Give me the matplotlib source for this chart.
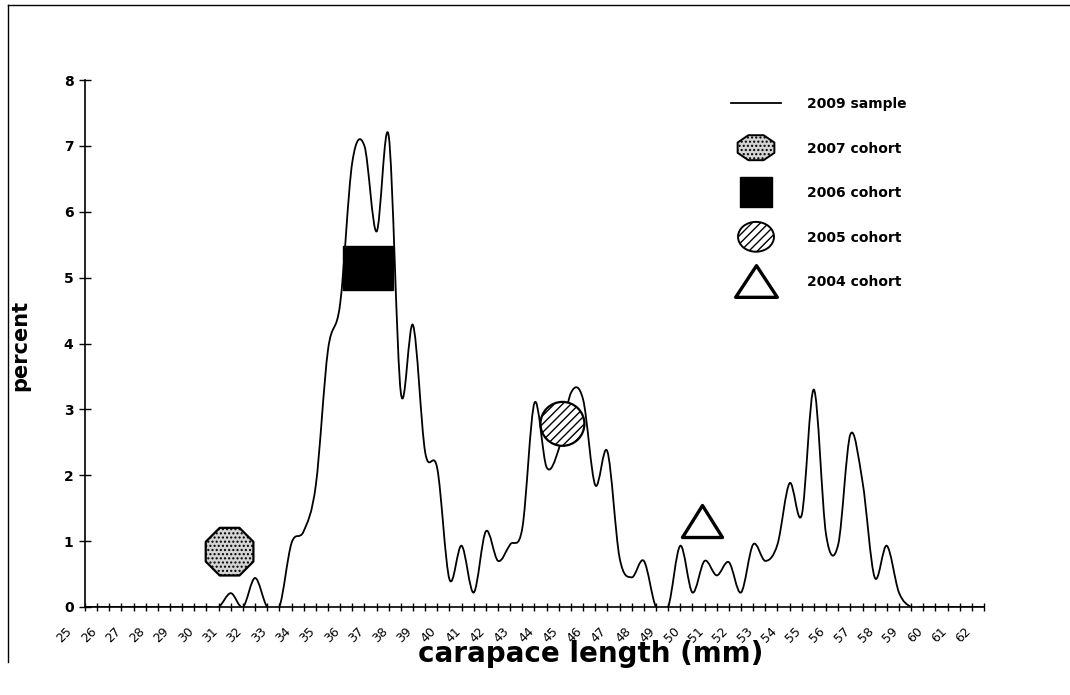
import numpy as np
import matplotlib.pyplot as plt
import matplotlib.transforms as mtransforms
from matplotlib.path import Path
from matplotlib.patches import PathPatch
from matplotlib.lines import Line2D
from matplotlib.markers import MarkerStyle

plt.rcParams['font.family'] = ['DejaVu Sans']

# Datos (clases de 0.5 mm, 25 a 62 mm)
length_mm = np.arange(25, 62.5, 0.5)
percent_2009 = [
    0, 0, 0, 0, 0, 0, 0, 0, 0, 0, 0,          # 25 - 30
    0, 0.21, 0, 0.44, 0, 0,                   # 30.5 - 33
    0.97, 1.15, 1.85, 3.9, 4.6, 6.75, 7.0,    # 33.5 - 36.5
    5.7, 7.15, 3.25, 4.28, 2.35, 2.1, 0.42,   # 37 - 40
    0.93, 0.22, 1.15, 0.7, 0.95, 1.2, 3.1,    # 40.5 - 43.5
    2.12, 2.4, 3.25, 3.15, 1.85, 2.36, 0.75,  # 44 - 47
    0.45, 0.7, 0, 0, 0.93, 0.22, 0.7,         # 47.5 - 50.5
    0.48, 0.68, 0.22, 0.95, 0.7, 0.95, 1.88,  # 51 - 54
    1.4, 3.3, 1.1, 0.95, 2.62, 1.9, 0.45,     # 54.5 - 57.5
    0.93, 0.22, 0, 0, 0, 0, 0, 0, 0,          # 58 - 62
]
tick_labels = [str(v) for v in range(25, 63)]

cohort_names = ["2007 cohort", "2006 cohort", "2005 cohort", "2004 cohort"]
cohort_x = [30.95, 36.65, 44.65, 50.4]
cohort_y = [0.84, 5.14, 2.78, 1.3]


def smooth_path(x, y):
    # linea suavizada tipo Excel (Bezier por Catmull-Rom)
    pts = np.column_stack([x, y]).astype(float)
    n = len(pts)
    verts = [pts[0]]
    codes = [Path.MOVETO]
    for i in range(n - 1):
        p0 = pts[i - 1] if i > 0 else pts[i]
        p1 = pts[i]
        p2 = pts[i + 1]
        p3 = pts[i + 2] if i + 2 < n else pts[i + 1]
        verts += [p1 + (p2 - p0) / 6, p2 - (p3 - p1) / 6, p2]
        codes += [Path.CURVE4] * 3
    return Path(verts, codes)


def shape(kind, sy=1.0):
    if kind == "rect":
        v = [(-0.5, -0.5 * sy), (0.5, -0.5 * sy), (0.5, 0.5 * sy), (-0.5, 0.5 * sy), (0, 0)]
        return Path(v, [Path.MOVETO, Path.LINETO, Path.LINETO, Path.LINETO, Path.CLOSEPOLY])
    if kind == "tri":
        v = [(-0.5, -0.5 * sy), (0.5, -0.5 * sy), (0, 0.5 * sy), (0, 0)]
        return Path(v, [Path.MOVETO, Path.LINETO, Path.LINETO, Path.CLOSEPOLY])
    if kind == "oct":
        a = np.deg2rad(22.5 + 45 * np.arange(8))
        v = np.column_stack([np.cos(a), np.sin(a) * sy]) * 0.5
        v = np.vstack([v, [0, 0]])
        return Path(v, [Path.MOVETO] + [Path.LINETO] * 7 + [Path.CLOSEPOLY])
    c = Path.unit_circle()
    return Path(c.vertices * [0.5, 0.5 * sy], c.codes)


fig = plt.figure(figsize=(10.7, 6.95), dpi=100)
ax = fig.add_axes([85 / 1070, 1 - 607 / 695, 899 / 1070, 527 / 695])

ax.add_patch(PathPatch(smooth_path(length_mm, percent_2009), fill=False,
                       edgecolor="black", lw=1.3, capstyle="round", joinstyle="round"))

# marcadores de cohortes en el grafico
plot_styles = [
    dict(marker=MarkerStyle("8"), s=1380, facecolor="#d4d4d4", hatch="....", linewidths=1.6),
    dict(marker=shape("rect", 0.86), s=1300, facecolor="black", hatch=None, linewidths=1.0),
    dict(marker=shape("circle"), s=1000, facecolor="white", hatch="////", linewidths=1.6),
    dict(marker=shape("tri", 0.8), s=830, facecolor="white", hatch=None, linewidths=2.4),
]
for cx, cy, st in zip(cohort_x, cohort_y, plot_styles):
    ax.scatter([cx], [cy], edgecolors="black", zorder=4, clip_on=False, **st)

# leyenda
legend_styles = [
    dict(marker=shape("oct", 0.68), s=700, facecolor="#d4d4d4", hatch="....", linewidths=1.4),
    dict(marker=shape("rect", 0.94), s=540, facecolor="black", hatch=None, linewidths=1.0),
    dict(marker=shape("circle", 0.83), s=670, facecolor="white", hatch="////", linewidths=1.4),
    dict(marker=shape("tri", 0.76), s=900, facecolor="white", hatch=None, linewidths=2.4),
]
handles = [Line2D([], [], color="black", lw=1.3, label="2009 sample")]
for name, st in zip(cohort_names, legend_styles):
    handles.append(ax.scatter([], [], edgecolors="black", label=name, **st))
ax.legend(handles=handles, loc="upper left", bbox_to_anchor=(731 / 1070, 1 - 97 / 695),
          bbox_transform=fig.transFigure, frameon=False, borderpad=0, borderaxespad=0,
          handlelength=3.6, handletextpad=1.9, labelspacing=2.2, scatteryoffsets=[0.5],
          prop={"weight": "bold", "size": 10})

# ejes
ax.set_xlim(25, 62)
ax.set_ylim(0, 8)
ax.set_xticks(length_mm)
ax.set_xticklabels([])
ax.set_yticks(range(0, 9))
ax.set_yticklabels([str(v) for v in range(0, 9)], fontweight="bold", fontsize=10)
ax.tick_params(axis="x", direction="inout", length=6, width=1)
ax.tick_params(axis="y", direction="inout", length=8.5, width=1, pad=4)
for side in ["top", "right"]:
    ax.spines[side].set_visible(False)
for side in ["left", "bottom"]:
    ax.spines[side].set_linewidth(1.2)

off = mtransforms.ScaledTranslation(-15 / 100, -22 / 100, fig.dpi_scale_trans)
for lab in tick_labels:
    ax.text(int(lab), 0, lab, transform=ax.get_xaxis_transform() + off, rotation=45,
            rotation_mode="anchor", ha="right", va="center", fontsize=9)

ax.set_ylabel("percent", fontsize=15, fontweight="bold")
ax.yaxis.set_label_coords(-0.061, 0.497)
ax.set_xlabel("carapace length (mm)", fontsize=20, fontweight="bold")
ax.xaxis.set_label_coords(0.563, -0.062)

# marco del area del grafico (escaneado)
fig.add_artist(Line2D([8 / 1070, 8 / 1070], [1 - 5 / 695, 1 - 662 / 695], color="black", lw=1.0))
fig.add_artist(Line2D([8 / 1070, 1.0], [1 - 5 / 695, 1 - 5 / 695], color="black", lw=1.0))

fig.savefig("out.png", dpi=100)
plt.close(fig)
